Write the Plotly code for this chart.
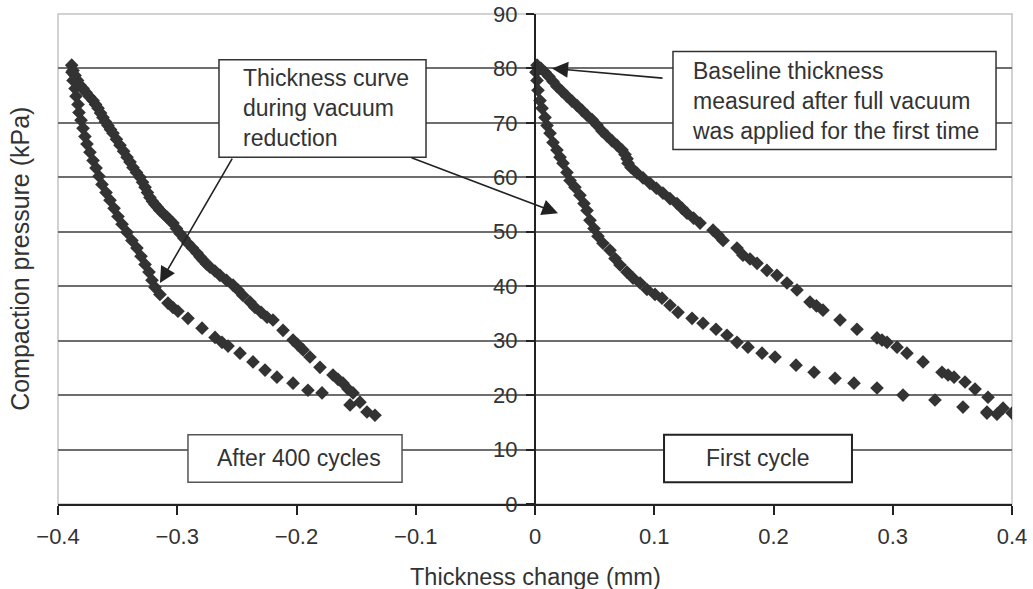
import plotly.graph_objects as go

# Compaction pressure (kPa) vs thickness change (mm), two hysteresis loops.
# Each loop is stored as two branches of (thickness change, pressure) points.

after400_upper = [
    (-0.3885, 80.6), (-0.3874, 79.6), (-0.3857, 78.7), (-0.3836, 77.8), (-0.3815, 76.9),
    (-0.3790, 76.3), (-0.3765, 75.6), (-0.3736, 74.8), (-0.3706, 74.1), (-0.3685, 73.4),
    (-0.3664, 72.7), (-0.3643, 71.8), (-0.3623, 71.0), (-0.3602, 70.2), (-0.3581, 69.5),
    (-0.3560, 68.8), (-0.3539, 68.1), (-0.3510, 67.0), (-0.3480, 65.9), (-0.3450, 64.8),
    (-0.3421, 63.7), (-0.3396, 62.8), (-0.3371, 61.8), (-0.3342, 60.9), (-0.3312, 60.0),
    (-0.3291, 59.1), (-0.3270, 58.2), (-0.3250, 57.2), (-0.3229, 56.3), (-0.3208, 55.6),
    (-0.3187, 55.0), (-0.3166, 54.5), (-0.3145, 53.9), (-0.3116, 53.3), (-0.3086, 52.7),
    (-0.3061, 52.1), (-0.3036, 51.6), (-0.3007, 50.6), (-0.2977, 49.7), (-0.2944, 48.8),
    (-0.2910, 47.9), (-0.2872, 47.0), (-0.2834, 46.1), (-0.2809, 45.4), (-0.2784, 44.8),
    (-0.2755, 44.1), (-0.2725, 43.5), (-0.2684, 42.8), (-0.2642, 42.0), (-0.2587, 41.1),
    (-0.2532, 40.2), (-0.2490, 39.3), (-0.2449, 38.3), (-0.2390, 37.1), (-0.2348, 36.1),
    (-0.2297, 35.2), (-0.2247, 34.3), (-0.2197, 33.8), (-0.2113, 31.9), (-0.2029, 30.1),
    (-0.1987, 29.2), (-0.1945, 28.3), (-0.1887, 27.0), (-0.1803, 25.1), (-0.1694, 23.7),
    (-0.1652, 22.9), (-0.1610, 22.2), (-0.1568, 21.1), (-0.1526, 20.4), (-0.1551, 18.2),
    (-0.1468, 18.7), (-0.1409, 16.9), (-0.1342, 16.3),
]

after400_lower = [
    (-0.3883, 79.3), (-0.3874, 77.8), (-0.3857, 76.3), (-0.3849, 74.9), (-0.3832, 73.4),
    (-0.3824, 71.9), (-0.3807, 70.5), (-0.3790, 69.0), (-0.3774, 67.5), (-0.3757, 66.1),
    (-0.3732, 64.6), (-0.3706, 63.1), (-0.3681, 61.7), (-0.3656, 60.2), (-0.3631, 58.7),
    (-0.3597, 57.2), (-0.3564, 55.8), (-0.3530, 54.3), (-0.3497, 52.8), (-0.3463, 51.4),
    (-0.3421, 49.9), (-0.3380, 48.4), (-0.3338, 47.0), (-0.3304, 45.5), (-0.3270, 44.0),
    (-0.3237, 42.6), (-0.3212, 41.1), (-0.3187, 39.8), (-0.3145, 38.5), (-0.3078, 36.9),
    (-0.3036, 36.1), (-0.2994, 35.4), (-0.2910, 34.1), (-0.2792, 32.3), (-0.2683, 30.6),
    (-0.2625, 29.7), (-0.2574, 29.0), (-0.2474, 27.7), (-0.2365, 26.1), (-0.2264, 24.6),
    (-0.2164, 23.3), (-0.2029, 22.2), (-0.1904, 20.9), (-0.1786, 20.4),
]

first_upper = [
    (0.0017, 80.6), (0.0050, 80.0), (0.0084, 79.3), (0.0117, 78.5), (0.0151, 77.6),
    (0.0184, 76.7), (0.0226, 75.8), (0.0268, 74.9), (0.0310, 74.0), (0.0352, 73.2),
    (0.0394, 72.3), (0.0436, 71.4), (0.0478, 70.6), (0.0520, 69.6), (0.0562, 68.5),
    (0.0604, 67.6), (0.0646, 66.7), (0.0688, 65.9), (0.0730, 65.0), (0.0755, 64.2),
    (0.0772, 63.4), (0.0780, 62.6), (0.0805, 61.8), (0.0855, 60.8), (0.0906, 59.9),
    (0.0964, 58.9), (0.1018, 58.0), (0.1073, 57.1), (0.1132, 56.1), (0.1191, 55.2),
    (0.1233, 54.3), (0.1275, 53.4), (0.1330, 52.5), (0.1384, 51.6), (0.1493, 50.3),
    (0.1535, 49.4), (0.1577, 48.4), (0.1694, 47.0), (0.1744, 45.7), (0.1803, 45.0),
    (0.1862, 44.2), (0.1945, 42.9), (0.2029, 42.0), (0.2113, 40.6), (0.2197, 39.3),
    (0.2306, 37.1), (0.2360, 36.4), (0.2415, 35.6), (0.2558, 33.8), (0.2700, 32.1),
    (0.2868, 30.5), (0.2910, 30.1), (0.2952, 29.7), (0.3036, 28.8), (0.3119, 27.7),
    (0.3254, 26.1), (0.3413, 24.2), (0.3464, 23.7), (0.3514, 23.3), (0.3606, 22.4),
    (0.3690, 21.1), (0.3799, 19.6), (0.3790, 16.9), (0.3874, 16.5), (0.3925, 17.6),
    (0.4000, 16.7),
]

first_lower = [
    (0.0008, 79.3), (0.0017, 77.8), (0.0025, 76.0), (0.0042, 74.1), (0.0059, 72.7),
    (0.0084, 71.0), (0.0101, 69.5), (0.0126, 68.1), (0.0151, 66.4), (0.0184, 65.0),
    (0.0210, 63.7), (0.0235, 62.6), (0.0268, 60.9), (0.0294, 59.4), (0.0335, 58.2),
    (0.0377, 56.7), (0.0411, 55.2), (0.0436, 53.9), (0.0461, 52.1), (0.0495, 50.6),
    (0.0528, 49.2), (0.0570, 47.9), (0.0629, 46.6), (0.0671, 45.1), (0.0713, 43.9),
    (0.0771, 42.6), (0.0822, 41.5), (0.0881, 40.6), (0.0939, 39.4), (0.1006, 38.5),
    (0.1065, 37.8), (0.1132, 36.5), (0.1199, 35.2), (0.1317, 34.1), (0.1409, 33.2),
    (0.1518, 32.1), (0.1610, 31.0), (0.1694, 29.7), (0.1786, 28.8), (0.1904, 27.7),
    (0.2013, 27.0), (0.2189, 25.5), (0.2340, 24.2), (0.2516, 23.1), (0.2675, 22.2),
    (0.2868, 21.3), (0.3086, 20.0), (0.3354, 19.1), (0.3589, 17.8), (0.3790, 16.7),
]

x_ticks = [-0.4, -0.3, -0.2, -0.1, 0, 0.1, 0.2, 0.3, 0.4]
x_tick_labels = ["\u22120.4", "\u22120.3", "\u22120.2", "\u22120.1", "0", "0.1", "0.2", "0.3", "0.4"]
y_ticks = [0, 10, 20, 30, 40, 50, 60, 70, 80, 90]

FONT = "Liberation Sans, Arial, Helvetica, sans-serif"
INK = "#333333"
MARKER = dict(symbol="diamond", size=10.5, color="#333333", line=dict(width=0))

fig = go.Figure()
for name, pts in [("After 400 cycles", after400_upper + after400_lower),
                  ("First cycle", first_upper + first_lower)]:
    fig.add_trace(go.Scatter(
        x=[p[0] for p in pts], y=[p[1] for p in pts],
        mode="markers", marker=MARKER, name=name, showlegend=False,
        hoverinfo="x+y",
    ))

shapes = [
    # light frame around the plot area
    dict(type="rect", xref="paper", yref="paper", x0=0, x1=1, y0=0, y1=1,
         line=dict(color="#c4c4c4", width=1.5), layer="below"),
    # callout boxes
    dict(type="rect", xref="x", yref="y", x0=-0.265, x1=-0.0914, y0=63.7, y1=81.6,
         line=dict(color="#333333", width=1.5), fillcolor="white", layer="above"),
    dict(type="rect", xref="x", yref="y", x0=0.1157, x1=0.3866, y0=65.1, y1=83.1,
         line=dict(color="#333333", width=1.5), fillcolor="white", layer="above"),
    dict(type="rect", xref="x", yref="y", x0=-0.291, x1=-0.1115, y0=4.0, y1=12.7,
         line=dict(color="#555555", width=1.5), fillcolor="white", layer="above"),
    dict(type="rect", xref="x", yref="y", x0=0.1082, x1=0.2658, y0=4.0, y1=12.7,
         line=dict(color="#222222", width=2), fillcolor="white", layer="above"),
]

txt = dict(family=FONT, size=23, color=INK)
arrow = dict(text="", showarrow=True, arrowhead=2, arrowsize=2.0, arrowwidth=1.6,
             arrowcolor="#222222", standoff=0, startstandoff=0,
             xref="x", yref="y", axref="x", ayref="y")
annotations = [
    dict(x=-0.2465, y=72.7, xref="x", yref="y", xanchor="left", yanchor="middle",
         align="left", showarrow=False, font=txt,
         text="Thickness curve<br>during vacuum<br>reduction"),
    dict(x=0.130, y=74.1, xref="x", yref="y", xanchor="left", yanchor="middle",
         align="left", showarrow=False, font=txt,
         text="Baseline thickness<br>measured after full vacuum<br>was applied for the first time"),
    dict(x=-0.1982, y=8.4, xref="x", yref="y", xanchor="center", yanchor="middle",
         showarrow=False, font=txt, text="After 400 cycles"),
    dict(x=0.1873, y=8.4, xref="x", yref="y", xanchor="center", yanchor="middle",
         showarrow=False, font=txt, text="First cycle"),
    # arrows
    dict(x=-0.3145, y=40.6, ax=-0.2532, ay=63.7, **arrow),
    dict(x=0.0193, y=53.4, ax=-0.1048, ay=63.7, **arrow),
    dict(x=0.0143, y=80.0, ax=0.1082, ay=78.2, **arrow),
    # axis titles
    dict(x=-0.040, y=0.5, xref="paper", yref="paper", xanchor="center", yanchor="middle",
         textangle=-90, showarrow=False, font=dict(family=FONT, size=25, color=INK),
         text="Compaction pressure (kPa)"),
    dict(x=0.5, y=-0.149, xref="paper", yref="paper", xanchor="center", yanchor="middle",
         showarrow=False, font=dict(family=FONT, size=23.5, color=INK),
         text="Thickness change (mm)"),
]

fig.update_layout(
    width=1033, height=589,
    margin=dict(l=58, r=21, t=14, b=85, autoexpand=False),
    paper_bgcolor="white", plot_bgcolor="white",
    font=dict(family=FONT, size=22, color=INK),
    shapes=shapes, annotations=annotations,
    xaxis=dict(
        range=[-0.4, 0.4], tickvals=x_ticks, ticktext=x_tick_labels,
        showgrid=False, zeroline=False, automargin=False,
        showline=True, linecolor="#222222", linewidth=2,
        ticks="outside", ticklen=9, tickwidth=2, tickcolor="#222222",
        ticklabelstandoff=3,
        tickfont=dict(family=FONT, size=22, color=INK),
    ),
    yaxis=dict(
        range=[0, 90], tickvals=y_ticks,
        anchor="free", position=0.5, side="left", automargin=False,
        showgrid=True, gridcolor="#6e6e6e", gridwidth=1.5,
        zeroline=False,
        showline=True, linecolor="#222222", linewidth=2,
        ticks="outside", ticklen=8, tickwidth=2, tickcolor="#222222",
        ticklabelstandoff=4,
        tickfont=dict(family=FONT, size=22, color=INK),
    ),
)

fig.write_html("out.html")
